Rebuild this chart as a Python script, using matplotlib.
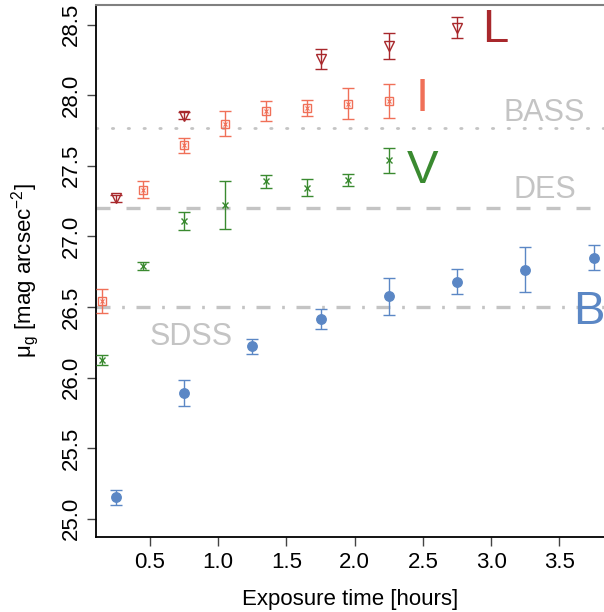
import matplotlib
matplotlib.use("Agg")
import matplotlib.pyplot as plt
import numpy as np

plt.rcParams['font.family'] = ['Liberation Sans', 'DejaVu Sans']
plt.rcParams['mathtext.fontset'] = 'custom'
plt.rcParams['mathtext.rm'] = 'Liberation Sans'
plt.rcParams['mathtext.it'] = 'Liberation Sans:italic'

# B band (blue dots)
b_x = [0.25, 0.75, 1.25, 1.75, 2.25, 2.75, 3.25, 3.75]
b_y = [25.15, 25.89, 26.22, 26.415, 26.575, 26.68, 26.765, 26.85]
b_err = [0.05, 0.09, 0.05, 0.07, 0.13, 0.09, 0.16, 0.09]

# V band (green crosses)
v_x = [0.15, 0.45, 0.75, 1.05, 1.35, 1.65, 1.95, 2.25]
v_y = [26.125, 26.79, 27.11, 27.22, 27.39, 27.345, 27.40, 27.54]
v_err = [0.035, 0.03, 0.065, 0.17, 0.047, 0.06, 0.04, 0.09]

# I band (salmon boxed crosses)
i_x = [0.15, 0.45, 0.75, 1.05, 1.35, 1.65, 1.95, 2.25]
i_y = [26.54, 27.33, 27.645, 27.80, 27.89, 27.91, 27.94, 27.96]
i_err = [0.085, 0.06, 0.055, 0.09, 0.07, 0.06, 0.11, 0.12]

# L band (dark red triangles)
l_x = [0.25, 0.75, 1.75, 2.25, 2.75]
l_y = [27.27, 27.855, 28.26, 28.35, 28.48]
l_err = [0.025, 0.025, 0.07, 0.095, 0.077]

# survey depth limits
surveys = ["BASS", "DES", "SDSS"]
depths = [27.77, 27.20, 26.50]

c_b = "#5b87c5"
c_v = "#3a8a30"
c_i = "#f07058"
c_l = "#a8282c"
c_lim = "#c4c4c4"

fig = plt.figure(figsize=(6.04, 6.12), dpi=100)
ax = fig.add_axes([96 / 604, 75 / 612, 1 - 96 / 604, 532 / 612])

# reference lines
ax.axhline(depths[0], color=c_lim, lw=2.0, ls=(0, (0.5, 5.2)), dash_capstyle='round', zorder=1)
ax.axhline(depths[1], color=c_lim, lw=2.4, ls=(0, (4.2, 4.8)), zorder=1)
ax.axhline(depths[2], color=c_lim, lw=2.4, ls=(0, (4.2, 3.5, 0.8, 3.5)), zorder=1)

ax.text(3.39, 27.82, surveys[0], color=c_lim, fontsize=22, ha='center', va='baseline')
ax.text(3.39, 27.27, surveys[1], color=c_lim, fontsize=22, ha='center', va='baseline')
ax.text(0.80, 26.23, surveys[2], color=c_lim, fontsize=22, ha='center', va='baseline')

ekw = dict(ls='none', elinewidth=1.0, capsize=4, capthick=1.0)

ax.errorbar(b_x, b_y, yerr=b_err, fmt='o', color=c_b, ms=6.8, ecolor=c_b, **ekw, zorder=3)
ax.errorbar(v_x, v_y, yerr=v_err, fmt='x', color=c_v, ms=5, mew=1.0, ecolor=c_v, **ekw, zorder=3)
ax.errorbar(i_x, i_y, yerr=i_err, fmt='s', color=c_i, mfc='none', ms=5.5, mew=1.0, ecolor=c_i, **ekw, zorder=3)
ax.plot(i_x, i_y, 'x', color=c_i, ms=3.5, mew=0.8, zorder=4)
ax.errorbar(l_x, l_y, yerr=l_err, fmt='v', color=c_l, mfc='none', ms=7, mew=1.0, ecolor=c_l, **ekw, zorder=3)

# band letters
ax.text(2.93, 28.377, "L", color=c_l, fontsize=34, ha='left', va='baseline')
ax.text(2.494, 27.887, "I", color=c_i, fontsize=34, ha='center', va='baseline')
ax.text(2.497, 27.38, "V", color=c_v, fontsize=34, ha='center', va='baseline')
ax.text(3.60, 26.38, "B", color=c_b, fontsize=34, ha='left', va='baseline')

ax.set_xlim(0.105, 3.826)
ax.set_ylim(24.87, 28.64)
ax.set_xticks([0.5, 1.0, 1.5, 2.0, 2.5, 3.0, 3.5])
ax.set_xticklabels([f"{t:.1f}" for t in ax.get_xticks()])
ax.set_yticks([25.0, 25.5, 26.0, 26.5, 27.0, 27.5, 28.0, 28.5])
ax.set_yticklabels([f"{t:.1f}" for t in ax.get_yticks()], rotation=90, va='center')
ax.tick_params(axis='both', labelsize=16, length=6.5, width=1.0, color='#444444', pad=4)

ax.spines['right'].set_visible(False)
ax.spines['top'].set_color('#808080')
ax.spines['top'].set_linewidth(1.5)
ax.spines['left'].set_linewidth(1.3)
ax.spines['bottom'].set_linewidth(1.3)

ax.set_xlabel("Exposure time [hours]", fontsize=16)
ax.set_ylabel(r"μ$_\mathrm{g}$ [mag arcsec$^{-2}$]", fontsize=16)
ax.yaxis.set_label_coords(-0.108, 0.5)
ax.xaxis.set_label_coords(0.5, -0.098)

fig.savefig("out.png", dpi=100)
